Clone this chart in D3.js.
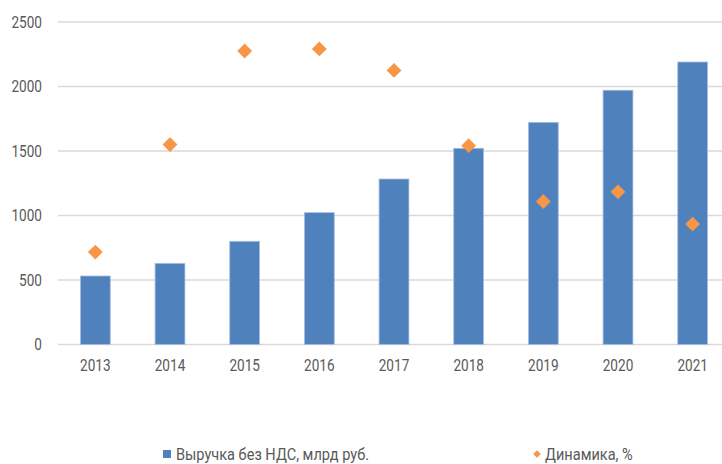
<!DOCTYPE html>
<html>
<head>
<meta charset="utf-8">
<script src="https://cdn.jsdelivr.net/npm/d3@7"></script>
<style>
  body { margin: 0; background: #fff; }
  text { font-family: Roboto, "Noto Sans", sans-serif; fill: #595959; }
</style>
</head>
<body>
<script>
// Data
var years = ["2013", "2014", "2015", "2016", "2017", "2018", "2019", "2020", "2021"];
var revenue = [531, 629, 800, 1022, 1283, 1521, 1722, 1971, 2190];
var growth = [8.6, 18.6, 27.3, 27.5, 25.5, 18.5, 13.3, 14.2, 11.2];
var yTicks = [0, 500, 1000, 1500, 2000, 2500];
var legendNames = ["Выручка без НДС, млрд руб.", "Динамика, %"];

var width = 722, height = 464;
var margin = {top: 22, right: -8, bottom: 119.5, left: 58};
var squeeze = 0.85; // condensed look

var svg = d3.select("body").append("svg")
    .attr("width", width)
    .attr("height", height);

var x = d3.scaleBand()
    .domain(years)
    .range([margin.left, width - margin.right]);

var y = d3.scaleLinear()
    .domain([0, 2500])
    .range([height - margin.bottom, margin.top]);

// hidden secondary axis for the percentages
var y2 = d3.scaleLinear()
    .domain([0, 30])
    .range([height - margin.bottom, margin.top]);

// Gridlines
svg.append("g")
  .selectAll("line")
  .data(yTicks)
  .enter().append("line")
    .attr("x1", margin.left)
    .attr("x2", width)
    .attr("y1", function(d) { return y(d); })
    .attr("y2", function(d) { return y(d); })
    .attr("stroke", "#d9d9d9")
    .attr("stroke-width", 1.5);

// Y labels
svg.append("g")
  .selectAll("text")
  .data(yTicks)
  .enter().append("text")
    .attr("transform", function(d) {
      return "translate(42," + y(d) + ") scale(" + squeeze + ",1)";
    })
    .attr("dy", "0.36em")
    .attr("text-anchor", "end")
    .style("font-size", "16px")
    .text(function(d) { return d; });

// X labels
svg.append("g")
  .selectAll("text")
  .data(years)
  .enter().append("text")
    .attr("transform", function(d) {
      return "translate(" + (x(d) + x.bandwidth() / 2) + "," + (y(0) + 21) + ") scale(" + squeeze + ",1)";
    })
    .attr("dy", "0.36em")
    .attr("text-anchor", "middle")
    .style("font-size", "16px")
    .text(function(d) { return d; });

// Bars
var barW = x.bandwidth() * 0.4;
svg.append("g")
  .selectAll("rect")
  .data(revenue)
  .enter().append("rect")
    .attr("x", function(d, i) { return x(years[i]) + (x.bandwidth() - barW) / 2; })
    .attr("y", function(d) { return y(d); })
    .attr("width", barW)
    .attr("height", function(d) { return y(0) - y(d); })
    .attr("fill", "#4f81bd")
    .attr("stroke", "#a9bfdf")
    .attr("stroke-width", 0.8);

// Diamonds
var diamond = d3.symbol().type(d3.symbolSquare).size(110);
svg.append("g")
  .selectAll("path")
  .data(growth)
  .enter().append("path")
    .attr("d", diamond)
    .attr("transform", function(d, i) {
      return "translate(" + (x(years[i]) + x.bandwidth() / 2) + "," + y2(d) + ") rotate(45)";
    })
    .attr("fill", "#f79646");

// Legend
var leg = svg.append("g");
leg.append("rect")
    .attr("x", 163).attr("y", 450)
    .attr("width", 8).attr("height", 8)
    .attr("fill", "#4f81bd");
leg.append("text")
    .attr("transform", "translate(176,454) scale(0.91,1)")
    .attr("dy", "0.36em")
    .style("font-size", "16px")
    .text(legendNames[0]);
leg.append("path")
    .attr("d", d3.symbol().type(d3.symbolSquare).size(30))
    .attr("transform", "translate(537,454) rotate(45)")
    .attr("fill", "#f79646");
leg.append("text")
    .attr("transform", "translate(545,454) scale(0.91,1)")
    .attr("dy", "0.36em")
    .style("font-size", "16px")
    .text(legendNames[1]);
</script>
</body>
</html>
